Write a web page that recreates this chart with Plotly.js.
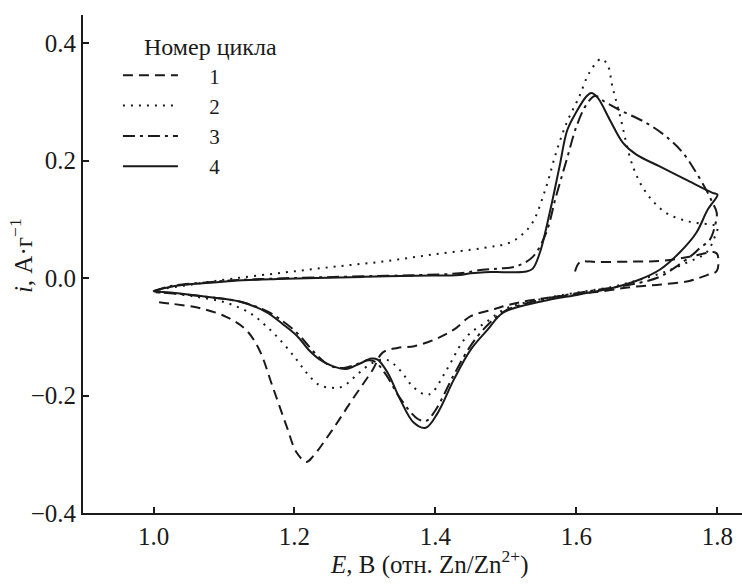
<!DOCTYPE html>
<html>
<head>
<meta charset="utf-8">
<script src="https://cdn.plot.ly/plotly-3.0.1.min.js"></script>
<style>html,body{margin:0;padding:0;background:#fff;}#chart{width:742px;height:585px;}</style>
</head>
<body>
<div id="chart"></div>
<script>
// Cycle 1 (dashed)
const E1 = [1.598, 1.605, 1.63, 1.68, 1.72, 1.76, 1.796, 1.80, 1.799, 1.785, 1.76, 1.72, 1.68, 1.64, 1.59, 1.54, 1.506, 1.481, 1.45, 1.426, 1.40, 1.37, 1.346, 1.325, 1.311, 1.282, 1.254, 1.226, 1.217, 1.203, 1.189, 1.169, 1.150, 1.131, 1.103, 1.065, 1.027, 1.0];
const I1 = [0.011, 0.027, 0.027, 0.028, 0.029, 0.036, 0.044, 0.040, 0.012, 0.005, -0.005, -0.011, -0.015, -0.022, -0.029, -0.037, -0.045, -0.054, -0.065, -0.088, -0.104, -0.116, -0.119, -0.127, -0.156, -0.207, -0.258, -0.304, -0.313, -0.297, -0.253, -0.185, -0.122, -0.088, -0.066, -0.051, -0.044, -0.040];
// Cycle 2 (dotted)
const E2 = [1.0, 1.008, 1.055, 1.112, 1.183, 1.254, 1.325, 1.396, 1.467, 1.505, 1.523, 1.538, 1.557, 1.571, 1.586, 1.604, 1.618, 1.635, 1.644, 1.651, 1.661, 1.68, 1.699, 1.727, 1.76, 1.789, 1.800, 1.797, 1.784, 1.756, 1.727, 1.689, 1.651, 1.60, 1.55, 1.50, 1.472, 1.444, 1.416, 1.396, 1.387, 1.368, 1.349, 1.33, 1.31, 1.292, 1.268, 1.254, 1.235, 1.217, 1.203, 1.183, 1.160, 1.136, 1.103, 1.061, 1.018, 1.0];
const I2 = [-0.024, -0.020, -0.011, -0.001, 0.009, 0.019, 0.028, 0.040, 0.051, 0.060, 0.074, 0.095, 0.155, 0.213, 0.264, 0.309, 0.349, 0.373, 0.363, 0.326, 0.280, 0.190, 0.145, 0.111, 0.096, 0.091, 0.088, 0.073, 0.043, 0.026, 0.011, -0.003, -0.015, -0.025, -0.036, -0.052, -0.075, -0.100, -0.156, -0.194, -0.199, -0.185, -0.156, -0.139, -0.145, -0.161, -0.185, -0.187, -0.182, -0.161, -0.139, -0.110, -0.082, -0.059, -0.042, -0.032, -0.025, -0.024];
// Cycle 3 (dash-dot)
const E3 = [1.0, 1.02, 1.041, 1.07, 1.112, 1.17, 1.231, 1.30, 1.373, 1.434, 1.467, 1.49, 1.515, 1.538, 1.557, 1.571, 1.586, 1.600, 1.614, 1.626, 1.640, 1.661, 1.699, 1.727, 1.751, 1.770, 1.784, 1.793, 1.799, 1.796, 1.789, 1.774, 1.765, 1.741, 1.718, 1.69, 1.647, 1.60, 1.55, 1.50, 1.474, 1.45, 1.426, 1.40, 1.387, 1.375, 1.35, 1.33, 1.315, 1.305, 1.29, 1.27, 1.25, 1.23, 1.204, 1.184, 1.16, 1.122, 1.075, 1.035, 1.0];
const I3 = [-0.023, -0.015, -0.011, -0.008, -0.004, -0.001, 0.001, 0.003, 0.005, 0.008, 0.014, 0.016, 0.020, 0.036, 0.077, 0.139, 0.201, 0.258, 0.295, 0.310, 0.300, 0.286, 0.264, 0.241, 0.213, 0.179, 0.150, 0.128, 0.111, 0.087, 0.065, 0.050, 0.040, 0.019, 0.002, -0.008, -0.017, -0.026, -0.037, -0.055, -0.080, -0.115, -0.165, -0.225, -0.243, -0.240, -0.205, -0.165, -0.143, -0.140, -0.146, -0.153, -0.149, -0.129, -0.094, -0.074, -0.056, -0.040, -0.032, -0.027, -0.024];
// Cycle 4 (solid)
const E4 = [1.0, 1.02, 1.041, 1.07, 1.112, 1.17, 1.231, 1.30, 1.373, 1.434, 1.45, 1.47, 1.50, 1.529, 1.538, 1.548, 1.562, 1.576, 1.587, 1.600, 1.614, 1.621, 1.630, 1.647, 1.666, 1.685, 1.718, 1.756, 1.793, 1.800, 1.786, 1.770, 1.746, 1.718, 1.689, 1.651, 1.604, 1.55, 1.496, 1.474, 1.45, 1.426, 1.403, 1.386, 1.369, 1.350, 1.332, 1.318, 1.309, 1.292, 1.273, 1.254, 1.235, 1.220, 1.204, 1.184, 1.160, 1.122, 1.075, 1.027, 1.0];
const I4 = [-0.022, -0.016, -0.012, -0.009, -0.005, -0.002, 0.0, 0.002, 0.004, 0.005, 0.008, 0.010, 0.010, 0.011, 0.016, 0.043, 0.111, 0.190, 0.252, 0.283, 0.309, 0.315, 0.307, 0.270, 0.230, 0.210, 0.190, 0.167, 0.145, 0.142, 0.116, 0.077, 0.043, 0.014, -0.003, -0.017, -0.028, -0.040, -0.059, -0.088, -0.122, -0.173, -0.230, -0.255, -0.246, -0.207, -0.161, -0.139, -0.137, -0.146, -0.155, -0.150, -0.138, -0.122, -0.099, -0.079, -0.058, -0.040, -0.032, -0.025, -0.022];

const cycleNames = ['1', '2', '3', '4'];
const legendTitle = 'Номер цикла';
const xTitle = '<i>E</i>, В (отн. Zn/Zn<sup>2+</sup>)';
const yTitle = '<i>i</i>, А·г<sup>−1</sup>';

const pad = '\u00a0\u00a0\u00a0\u00a0\u00a0';
const dashes = ['10px,6px', '2px,6px', '12px,5px,3px,5px', 'solid'];
const xs = [E1, E2, E3, E4];
const ys = [I1, I2, I3, I4];
const traces = xs.map((x, k) => ({
  x: x, y: ys[k], type: 'scatter', mode: 'lines', name: pad + cycleNames[k],
  line: {color: '#1a1a1a', width: 2, dash: dashes[k], shape: 'spline', smoothing: 1.0}
}));

const fam = '"Liberation Serif", "Times New Roman", serif';
const font = {family: fam, size: 25, color: '#1a1a1a'};
const tfont = {family: fam, size: 25, color: '#1a1a1a'};
const lfont = {family: fam, size: 21, color: '#1a1a1a'};
const ltfont = {family: fam, size: 24, color: '#1a1a1a'};
const layout = {
  width: 742, height: 585,
  margin: {l: 83, r: 0, t: 15, b: 72, pad: 0},
  paper_bgcolor: '#fff', plot_bgcolor: '#fff',
  font: font,
  showlegend: true,
  legend: {
    x: 0.053, y: 0.982, xanchor: 'left', yanchor: 'top',
    bgcolor: 'rgba(0,0,0,0)', itemwidth: 55,
    font: lfont,
    title: {text: '\u00a0\u00a0\u00a0\u00a0' + legendTitle, font: ltfont},
    tracegroupgap: 0
  },
  xaxis: {
    range: [0.9, 1.8348], tick0: 1.0, dtick: 0.2, tickformat: '.1f',
    ticks: 'inside', ticklen: 6, tickwidth: 2, tickcolor: '#1a1a1a',
    showline: true, linewidth: 2, linecolor: '#1a1a1a',
    showgrid: false, zeroline: false,
    tickfont: font
  },
  yaxis: {
    range: [-0.4, 0.4477], tick0: 0, dtick: 0.2, tickformat: '.1f',
    ticks: 'inside', ticklen: 6, tickwidth: 2, tickcolor: '#1a1a1a',
    showline: true, linewidth: 2, linecolor: '#1a1a1a',
    showgrid: false, zeroline: false,
    tickfont: font
  },
  annotations: [
    {text: xTitle, xref: 'paper', yref: 'paper', x: 0.525, y: -0.100,
     xanchor: 'center', yanchor: 'middle', showarrow: false, font: tfont},
    {text: yTitle, xref: 'paper', yref: 'paper', x: -0.094, y: 0.516,
     xanchor: 'center', yanchor: 'middle', textangle: -90, showarrow: false, font: tfont}
  ]
};
Plotly.newPlot('chart', traces, layout, {displayModeBar: false, staticPlot: true});
</script>
</body>
</html>
